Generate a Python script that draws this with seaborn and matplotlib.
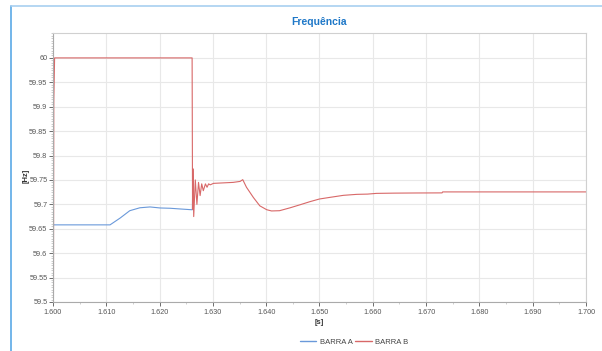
import matplotlib
matplotlib.use("Agg")
import matplotlib.pyplot as plt
import matplotlib.ticker as mticker
from matplotlib.lines import Line2D
import seaborn as sns
import pandas as pd

# ---- data ----
t_a = [1.6000, 1.6107, 1.6126, 1.6144, 1.6163, 1.6182, 1.6201, 1.6220, 1.6238, 1.6260, 1.62615,
       1.62620]
v_a = [59.658, 59.658, 59.672, 59.687, 59.693, 59.6947, 59.6926, 59.692, 59.6906, 59.689, 59.689,
       59.725]

t_b = [1.6000, 1.60015, 1.6003, 1.62610, 1.62618, 1.62625, 1.6264, 1.6267, 1.6270, 1.6273, 1.6276,
       1.6279, 1.6282, 1.6286, 1.6289, 1.6292, 1.6295, 1.6301, 1.6338, 1.6351, 1.6356,
       1.6363, 1.6376, 1.6388, 1.6401, 1.6410, 1.6425, 1.6445, 1.6463, 1.6482, 1.6500,
       1.6520, 1.6545, 1.6570, 1.6590, 1.6607, 1.6640, 1.6680, 1.6730, 1.6731, 1.7000]
v_b = [59.0, 59.91, 60.0, 60.0, 59.69, 59.773, 59.675, 59.750, 59.700, 59.745, 59.718,
       59.742, 59.728, 59.742, 59.735, 59.742, 59.740, 59.743, 59.745, 59.747, 59.7506,
       59.735, 59.714, 59.697, 59.689, 59.6865, 59.687, 59.693, 59.699, 59.7055, 59.711,
       59.7144, 59.7185, 59.7205, 59.721, 59.7225, 59.7230, 59.7233, 59.7235, 59.7255, 59.7255]

series_names = ["BARRA A", "BARRA B"]
colors = ["#6a99da", "#d86868"]

df = pd.concat([
    pd.DataFrame({"t": t_a, "f": v_a, "serie": series_names[0]}),
    pd.DataFrame({"t": t_b, "f": v_b, "serie": series_names[1]}),
], ignore_index=True)

y_ticks = [59.5, 59.55, 59.6, 59.65, 59.7, 59.75, 59.8, 59.85, 59.9, 59.95, 60.0]
x_ticks = [1.60, 1.61, 1.62, 1.63, 1.64, 1.65, 1.66, 1.67, 1.68, 1.69, 1.70]

# ---- figure ----
sns.set_theme(style="white")
plt.rcParams["font.family"] = ["Liberation Sans", "DejaVu Sans"]

fig = plt.figure(figsize=(6.02, 3.51), dpi=100)
ax = fig.add_axes([53 / 602, 1 - 302 / 351, (586 - 53) / 602, (302 - 33) / 351])

sns.lineplot(data=df, x="t", y="f", hue="serie", palette=colors, estimator=None,
             sort=False, linewidth=0.8, ax=ax, legend=True)

ax.set_xlim(1.6, 1.7)
ax.set_ylim(59.5, 60.051)
ax.set_xticks(x_ticks)
ax.set_yticks(y_ticks)
ax.xaxis.set_major_formatter(mticker.FormatStrFormatter("%.3f"))
ax.yaxis.set_major_formatter(mticker.FuncFormatter(lambda v, p: f"{v:.2f}".rstrip("0").rstrip(".")))
ax.xaxis.set_minor_locator(mticker.AutoMinorLocator(2))
ax.yaxis.set_minor_locator(mticker.MultipleLocator(0.005))
ax.tick_params(axis="both", which="major", labelsize=5.2, colors="#555555", length=3,
               width=0.6, pad=2, left=True, bottom=True)
ax.tick_params(axis="both", which="minor", length=1.5, width=0.4, colors="#aaaaaa",
               left=True, bottom=True)
ax.tick_params(axis="y", which="major", pad=1)
ax.grid(True, which="major", color="#e8e8e8", linewidth=0.8)
ax.set_axisbelow(True)
for side in ["top", "right"]:
    ax.spines[side].set_color("#d0d0d0")
    ax.spines[side].set_linewidth(0.8)
for side in ["left", "bottom"]:
    ax.spines[side].set_color("#aaaaaa")
    ax.spines[side].set_linewidth(0.8)

ax.set_xlabel("[s]", fontsize=5.5, fontweight="bold", color="#333333", labelpad=2)
ax.set_ylabel("[Hz]", fontsize=5.5, fontweight="bold", color="#333333")
ax.yaxis.set_label_coords(-0.043, 0.47)
ax.set_title("Frequência", fontsize=7.5, fontweight="bold", color="#1f78c8", pad=6)

leg = ax.legend(loc="upper center", bbox_to_anchor=(0.565, -0.11), ncol=2, frameon=False,
                fontsize=5.5, handlelength=2.2, handletextpad=0.4, columnspacing=0.4)
for txt in leg.get_texts():
    txt.set_color("#444444")
for h, c in zip(leg.legend_handles, colors):
    h.set_linewidth(1.0)
    h.set_color(c)

# light blue frame around the chart
fig.add_artist(Line2D([11 / 602, 11 / 602], [0, 1 - 6 / 351], transform=fig.transFigure,
                      color="#5aa9e6", linewidth=1.2))
fig.add_artist(Line2D([11 / 602, 1], [1 - 6 / 351, 1 - 6 / 351], transform=fig.transFigure,
                      color="#a8cff0", linewidth=1.2))

fig.savefig("out.png", dpi=100)
